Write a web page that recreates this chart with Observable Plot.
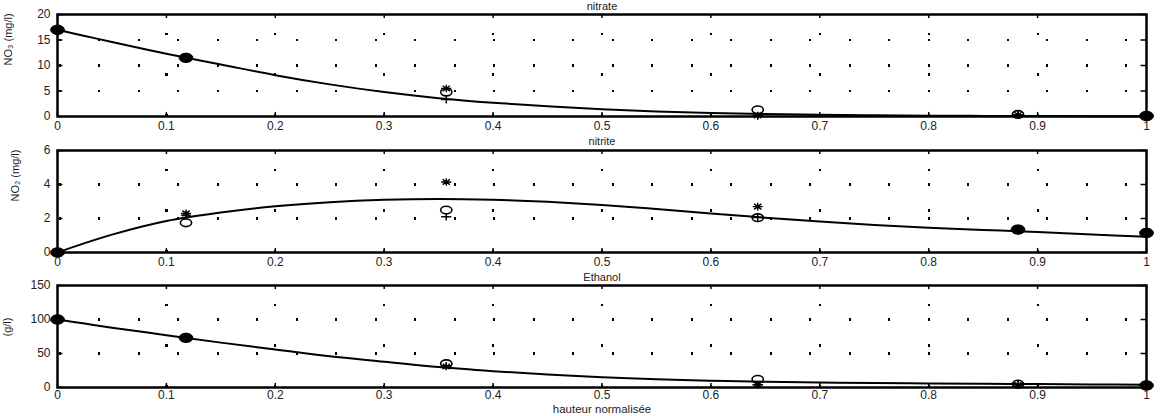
<!DOCTYPE html>
<html>
<head>
<meta charset="utf-8">
<script src="https://cdn.jsdelivr.net/npm/d3@7"></script>
<script src="https://cdn.jsdelivr.net/npm/@observablehq/plot@0.6"></script>
<style>
  html, body { margin: 0; padding: 0; background: #fff; }
  #chart svg { display: block; }
</style>
</head>
<body>
<div id="chart"></div>
<script>
// ---- data ----
const xTicks = [0, 0.1, 0.2, 0.3, 0.4, 0.5, 0.6, 0.7, 0.8, 0.9, 1];
const xTickLabels = ["0", "0.1", "0.2", "0.3", "0.4", "0.5", "0.6", "0.7", "0.8", "0.9", "1"];
const xMeas = [0, 0.118, 0.357, 0.643, 0.882, 1];
const xCurve = [0, 0.025, 0.05, 0.1, 0.15, 0.2, 0.25, 0.3, 0.35, 0.4, 0.45, 0.5, 0.55, 0.6, 0.65, 0.7, 0.75, 0.8, 0.85, 0.9, 0.95, 1];

// nitrate
const nitrateTicks = [0, 5, 10, 15, 20];
const nitrateCurve = [17, 15.8, 14.6, 12.3, 10.2, 8.1, 6.3, 4.8, 3.6, 2.7, 2.0, 1.4, 1.0, 0.7, 0.5, 0.35, 0.25, 0.17, 0.12, 0.08, 0.05, 0.03];
const nitrateCircles = [17, 11.5, 4.8, 1.3, 0.4, 0.1];
const nitrateStars = [17, 11.5, 5.5, 0.2, 0.3, 0.1];
const nitratePlus = [17, 11.5, 3.3, 0.1, 0.3, 0.1];
const nitrateFilled = [17, 11.5, null, null, null, 0.1];

// nitrite
const nitriteTicks = [0, 2, 4, 6];
const nitriteCurve = [0, 0.55, 1.05, 1.85, 2.35, 2.72, 2.96, 3.1, 3.15, 3.1, 2.98, 2.8, 2.56, 2.3, 2.05, 1.82, 1.62, 1.46, 1.33, 1.2, 1.06, 0.93];
const nitriteCircles = [0, 1.75, 2.5, 2.05, 1.35, 1.15];
const nitriteStars = [0, 2.3, 4.15, 2.7, 1.4, 1.15];
const nitritePlus = [0, 2.2, 2.1, 2.05, 1.35, 1.15];
const nitriteFilled = [0, null, null, null, 1.35, 1.15];

// ethanol
const ethanolTicks = [0, 50, 100, 150];
const ethanolCurve = [100, 94, 88, 77, 66, 56, 46, 38, 30, 24, 19, 15, 12, 10, 8.5, 7.5, 6.5, 6, 5.5, 5, 4.5, 4];
const ethanolCircles = [100, 73, 35, 12, 5, 3];
const ethanolStars = [100, 73, 31, 4, 4, 3];
const ethanolPlus = [100, 73, 32, 4, 4, 3];
const ethanolFilled = [100, 73, null, null, null, 3];

// ---- symbols (slightly wide, like the reference) ----
const K = 0.5523;
const ellipse = {
  draw(ctx, size) {
    const r = Math.sqrt(size / Math.PI), rx = r * 1.25, ry = r * 0.85;
    ctx.moveTo(rx, 0);
    ctx.bezierCurveTo(rx, ry * K, rx * K, ry, 0, ry);
    ctx.bezierCurveTo(-rx * K, ry, -rx, ry * K, -rx, 0);
    ctx.bezierCurveTo(-rx, -ry * K, -rx * K, -ry, 0, -ry);
    ctx.bezierCurveTo(rx * K, -ry, rx, -ry * K, rx, 0);
    ctx.closePath();
  }
};
const star = {
  draw(ctx, size) {
    const r = Math.sqrt(size / Math.PI), rx = r * 1.2, ry = r * 0.9, d = 0.72;
    ctx.moveTo(-rx, 0); ctx.lineTo(rx, 0);
    ctx.moveTo(0, -ry); ctx.lineTo(0, ry);
    ctx.moveTo(-rx * d, -ry * d); ctx.lineTo(rx * d, ry * d);
    ctx.moveTo(-rx * d, ry * d); ctx.lineTo(rx * d, -ry * d);
  }
};
const plus = {
  draw(ctx, size) {
    const r = Math.sqrt(size / Math.PI), rx = r * 1.2, ry = r * 0.9;
    ctx.moveTo(-rx, 0); ctx.lineTo(rx, 0);
    ctx.moveTo(0, -ry); ctx.lineTo(0, ry);
  }
};

const FONT = "'Liberation Sans', Arial, Helvetica, sans-serif";

function panel(o) {
  const meas = xMeas.map((x, i) => ({x, c: o.circles[i], s: o.stars[i], p: o.plus[i], f: o.filled[i]}));
  const curve = xCurve.map((x, i) => ({x, y: o.curve[i]}));
  const y0 = o.yTicks[0], y1 = o.yTicks[o.yTicks.length - 1], span = y1 - y0;
  const marks = [
    // dotted grid
    Plot.ruleX(xTicks.slice(1, -1), {stroke: "#000", strokeWidth: 2.2, strokeDasharray: "2.2,38", strokeDashoffset: 21, shapeRendering: "crispEdges"}),
    Plot.ruleY(o.yTicks.slice(1, -1), {stroke: "#000", strokeWidth: 2.2, strokeDasharray: "2.2,37.3", strokeDashoffset: -1.5, shapeRendering: "crispEdges"}),
    // inward ticks
    Plot.ruleX(xTicks, {y1: y0, y2: y0 + span * 0.04, stroke: "#000", strokeWidth: 1.5}),
    Plot.ruleX(xTicks, {y1: y1 - span * 0.04, y2: y1, stroke: "#000", strokeWidth: 1.5}),
    Plot.ruleY(o.yTicks, {x1: 0, x2: 0.005, stroke: "#000", strokeWidth: 1.5}),
    Plot.ruleY(o.yTicks, {x1: 0.995, x2: 1, stroke: "#000", strokeWidth: 1.5}),
    // model curve
    Plot.line(curve, {x: "x", y: "y", curve: "catmull-rom", stroke: "#000", strokeWidth: 2}),
    // measurements
    Plot.dot(meas, {x: "x", y: "f", symbol: ellipse, r: 5.5, fill: "#000", stroke: "#000", strokeWidth: 1}),
    Plot.dot(meas, {x: "x", y: "c", symbol: ellipse, r: 4.5, fill: "none", stroke: "#000", strokeWidth: 1.6}),
    Plot.dot(meas, {x: "x", y: "s", symbol: star, r: 4.2, fill: "none", stroke: "#000", strokeWidth: 1.4}),
    Plot.dot(meas, {x: "x", y: "p", symbol: plus, r: 4.2, fill: "none", stroke: "#000", strokeWidth: 1.4}),
    Plot.frame({stroke: "#000", strokeWidth: 2.5}),
    Plot.axisX({ticks: xTicks, tickFormat: (d, i) => xTickLabels[i], tickSize: 0, tickPadding: o.xPad, label: null, fill: "#222", fontSize: 12}),
    Plot.axisY({ticks: o.yTicks, tickFormat: d => String(d), tickSize: 0, tickPadding: 7, label: null, fill: "#222", fontSize: 12}),
    Plot.text([o.title], {text: d => d, frameAnchor: "top", lineAnchor: "middle", dy: o.titleDy, fill: "#222", fontSize: 11}),
    Plot.text([o.ylabel], {text: d => d, frameAnchor: "left", lineAnchor: "middle", rotate: -90, dx: o.ylabelDx, fill: "#222", fontSize: 11})
  ];
  if (o.xlabel) {
    marks.push(Plot.text([o.xlabel], {text: d => d, frameAnchor: "bottom", lineAnchor: "middle", dy: 22, fill: "#222", fontSize: 11.5}));
  }
  return Plot.plot({
    width: 1161,
    height: o.height,
    marginLeft: 57,
    marginRight: 15,
    marginTop: o.mt,
    marginBottom: o.mb,
    style: {fontFamily: FONT, fontSize: "11px", background: "#fff", overflow: "visible"},
    x: {domain: [0, 1]},
    y: {domain: [y0, y1]},
    marks
  });
}

const chart = document.getElementById("chart");
chart.append(panel({
  title: "nitrate", ylabel: "NO\u2083 (mg/l)", yTicks: nitrateTicks, curve: nitrateCurve,
  circles: nitrateCircles, stars: nitrateStars, plus: nitratePlus, filled: nitrateFilled,
  height: 135, mt: 14, mb: 19, titleDy: -8, ylabelDx: -49, xPad: 5
}));
chart.append(panel({
  title: "nitrite", ylabel: "NO\u2082 (mg/l)", yTicks: nitriteTicks, curve: nitriteCurve,
  circles: nitriteCircles, stars: nitriteStars, plus: nitritePlus, filled: nitriteFilled,
  height: 135, mt: 15, mb: 18, titleDy: -9, ylabelDx: -42, xPad: 5
}));
chart.append(panel({
  title: "Ethanol", ylabel: "(g/l)", yTicks: ethanolTicks, curve: ethanolCurve,
  circles: ethanolCircles, stars: ethanolStars, plus: ethanolPlus, filled: ethanolFilled,
  height: 146, mt: 15, mb: 29, titleDy: -8, ylabelDx: -50, xPad: 3, xlabel: "hauteur normalisée"
}));
</script>
</body>
</html>
